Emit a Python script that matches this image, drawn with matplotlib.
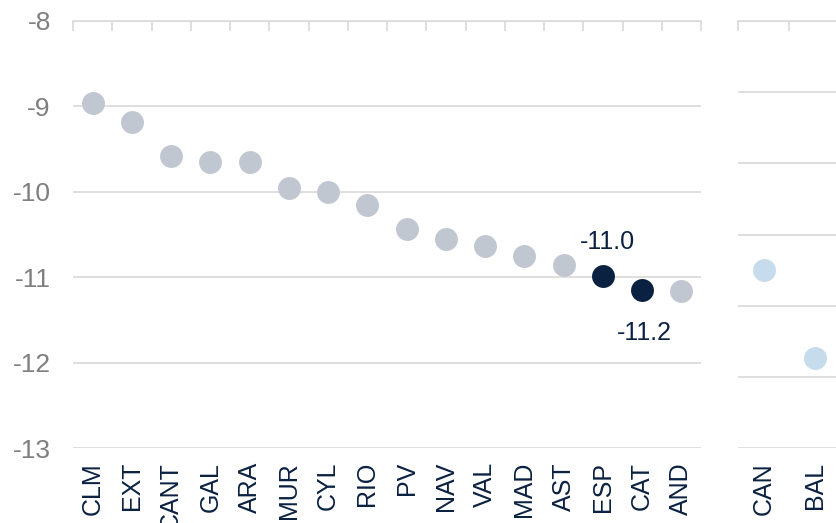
import numpy as np
import matplotlib
matplotlib.use("Agg")
import matplotlib.pyplot as plt

plt.rcParams['font.family'] = ['Liberation Sans', 'DejaVu Sans']

# main panel
regions = ["CLM", "EXT", "CANT", "GAL", "ARA", "MUR", "CYL", "RIO", "PV",
           "NAV", "VAL", "MAD", "AST", "ESP", "CAT", "AND"]
values = [-8.96, -9.18, -9.58, -9.65, -9.65, -9.95, -10.0, -10.15, -10.44,
          -10.55, -10.63, -10.75, -10.86, -10.99, -11.15, -11.16]
highlight = ["ESP", "CAT"]
labels = {"ESP": "-11.0", "CAT": "-11.2"}

# islands panel (own scale)
islands = ["CAN", "BAL"]
island_values = [-11.5, -12.73]

GRAY = "#C1C7D1"
NAVY = "#0B2142"
LIGHT = "#C6DBEC"
GRID = "#D9D9D9"
TICKTXT = "#7F7F7F"

fig = plt.figure(figsize=(8.36, 5.23), dpi=100)
ax = fig.add_axes([73 / 836, 1 - 448 / 523, 628 / 836, 427 / 523])
ax2 = fig.add_axes([738 / 836, 1 - 448 / 523, 102 / 836, 427 / 523])

x = np.arange(len(regions))
cols = [NAVY if r in highlight else GRAY for r in regions]
for xi, v, c in zip(x, values, cols):
    ax.plot(xi, v, 'o', ms=16.5, color=c, mec='none', zorder=3, clip_on=False)

for r, txt in labels.items():
    i = regions.index(r)
    v = values[i]
    if r == "ESP":
        off = (3, 25)
    else:
        off = (1.5, -31)
    ax.annotate(txt, (i, v), xytext=off, textcoords='offset points',
                ha='center', va='center', fontsize=18, color=NAVY)

ax.set_xlim(-0.5, len(regions) - 0.5)
ax.set_ylim(-13, -8)
ax.set_yticks(np.arange(-13, -7, 1))
ax.set_yticklabels([str(t) for t in range(-13, -7)])
ax.set_xticks(x)
ax.set_xticklabels(regions, rotation=90, va='top', ha='center')
ax.set_xticks(np.arange(-0.5, len(regions), 1), minor=True)

ix = np.arange(len(islands))
ax2.plot(ix, island_values, 'o', ms=16.5, color=LIGHT, mec='none',
         ls='none', zorder=3, clip_on=False)
ax2.set_xlim(-0.5, 1.5)
ax2.set_ylim(-14, -8)
ax2.set_yticks(np.arange(-14, -7, 1))
ax2.set_yticklabels([])
ax2.set_xticks(ix)
ax2.set_xticklabels(islands, rotation=90, va='top', ha='center')
ax2.set_xticks(np.arange(-0.5, 2, 1), minor=True)

for a in (ax, ax2):
    for s in ["left", "right", "bottom"]:
        a.spines[s].set_visible(False)
    a.spines["top"].set_color(GRID)
    a.spines["top"].set_linewidth(1.2)
    a.grid(axis='y', color=GRID, lw=1.2)
    a.set_axisbelow(True)
    a.tick_params(axis='x', which='major', length=0, pad=10,
                  labelsize=18, labelcolor=NAVY, top=False, bottom=True)
    a.tick_params(axis='x', which='minor', top=True, bottom=False,
                  direction='in', length=7, color=GRID, width=1.2)
    a.tick_params(axis='y', length=0, pad=16, labelsize=19,
                  labelcolor=TICKTXT)

fig.savefig("out.png", dpi=100)
